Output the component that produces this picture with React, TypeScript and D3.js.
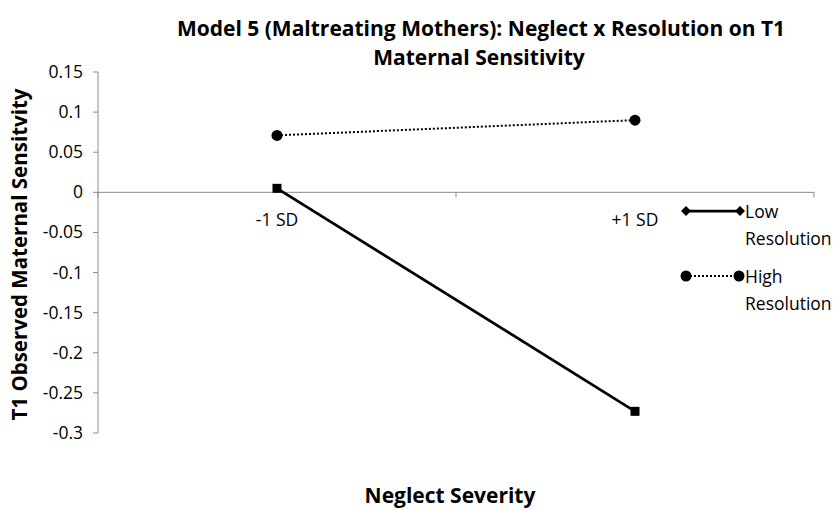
import React from "react";
import * as d3 from "d3";

const categories = ["-1 SD", "+1 SD"];
const lowResolution = [0.005, -0.273];
const highResolution = [0.071, 0.09];
const yTicks = [0.15, 0.1, 0.05, 0, -0.05, -0.1, -0.15, -0.2, -0.25, -0.3];
const seriesNames = ["Low", "High"];

export default function App() {
  const W = 838, H = 510;
  const left = 98, right = 814, top = 72, bottom = 433;
  const x = d3.scaleBand().domain(categories).range([left, right]);
  const y = d3.scaleLinear().domain([-0.3, 0.15]).range([bottom, top]);
  const cx = (c: string) => (x(c) as number) + x.bandwidth() / 2;
  const line = d3.line<[number, number]>().x(d => d[0]).y(d => d[1]);
  const lowPts: [number, number][] = categories.map((c, i) => [cx(c), y(lowResolution[i])]);
  const highPts: [number, number][] = categories.map((c, i) => [cx(c), y(highResolution[i])]);
  const axisColor = "#8c8c8c";
  const font = "'Open Sans', 'Liberation Sans', sans-serif";
  const y0 = y(0);
  const diamond = (px: number, py: number, s: number) =>
    `M${px},${py - s}L${px + s},${py}L${px},${py + s}L${px - s},${py}Z`;
  const tickFs = 17.5;
  return (
    <svg width={W} height={H} style={{ position: "absolute", left: 0, top: 0, background: "#fff" }} fontFamily={font}>
      <rect width={W} height={H} fill="#fff" />
      <text x={481} y={36} textAnchor="middle" fontSize={21} fontWeight="bold" fill="#000">
        Model 5 (Maltreating Mothers): Neglect x Resolution on T1
      </text>
      <text x={479} y={65} textAnchor="middle" fontSize={21} fontWeight="bold" fill="#000">
        Maternal Sensitivity
      </text>
      {/* y axis */}
      <line x1={left} x2={left} y1={top} y2={bottom} stroke={axisColor} strokeWidth={1} />
      {yTicks.map(t => (
        <g key={t}>
          <line x1={left - 5} x2={left} y1={y(t)} y2={y(t)} stroke={axisColor} />
          <text x={83} y={y(t) + 6} textAnchor="end" fontSize={tickFs} fill="#000">
            {String(t)}
          </text>
        </g>
      ))}
      {/* x axis at 0 */}
      <line x1={left} x2={right} y1={y0} y2={y0} stroke={axisColor} />
      {[left, left + x.bandwidth(), right].map((tx, i) => (
        <line key={i} x1={tx} x2={tx} y1={y0} y2={y0 + 5} stroke={axisColor} />
      ))}
      {categories.map(c => (
        <text key={c} x={cx(c)} y={y0 + 34} textAnchor="middle" fontSize={tickFs} fill="#000">{c}</text>
      ))}
      <text transform={`translate(27,${(top + bottom) / 2 + 2}) rotate(-90)`} textAnchor="middle" fontSize={20.5} fontWeight="bold" fill="#000">
        T1 Observed Maternal Sensitvity
      </text>
      <text x={450} y={503} textAnchor="middle" fontSize={21} fontWeight="bold" fill="#000">Neglect Severity</text>
      {/* series */}
      <path d={line(lowPts) as string} stroke="#000" strokeWidth={2.75} fill="none" />
      {lowPts.map((p, i) => (
        <rect key={i} x={p[0] - 4.5} y={p[1] - 4.5} width={9} height={9} fill="#000" />
      ))}
      <path d={line(highPts) as string} stroke="#000" strokeWidth={2} strokeDasharray="2,2" fill="none" />
      {highPts.map((p, i) => (
        <circle key={i} cx={p[0]} cy={p[1]} r={5.5} fill="#000" />
      ))}
      {/* legend */}
      <g>
        <line x1={686} x2={740} y1={211} y2={211} stroke="#000" strokeWidth={2.75} />
        <path d={diamond(686, 211, 5)} fill="#000" />
        <path d={diamond(740, 211, 5)} fill="#000" />
        <text x={745} y={218} fontSize={tickFs} fill="#000">{seriesNames[0]}</text>
        <text x={745} y={245} fontSize={tickFs} fill="#000">Resolution</text>
        <line x1={686} x2={740} y1={276} y2={276} stroke="#000" strokeWidth={2} strokeDasharray="2,2" />
        <circle cx={686} cy={276} r={5.5} fill="#000" />
        <circle cx={739} cy={276} r={5.5} fill="#000" />
        <text x={745} y={283} fontSize={tickFs} fill="#000">{seriesNames[1]}</text>
        <text x={745} y={310} fontSize={tickFs} fill="#000">Resolution</text>
      </g>
    </svg>
  );
}
